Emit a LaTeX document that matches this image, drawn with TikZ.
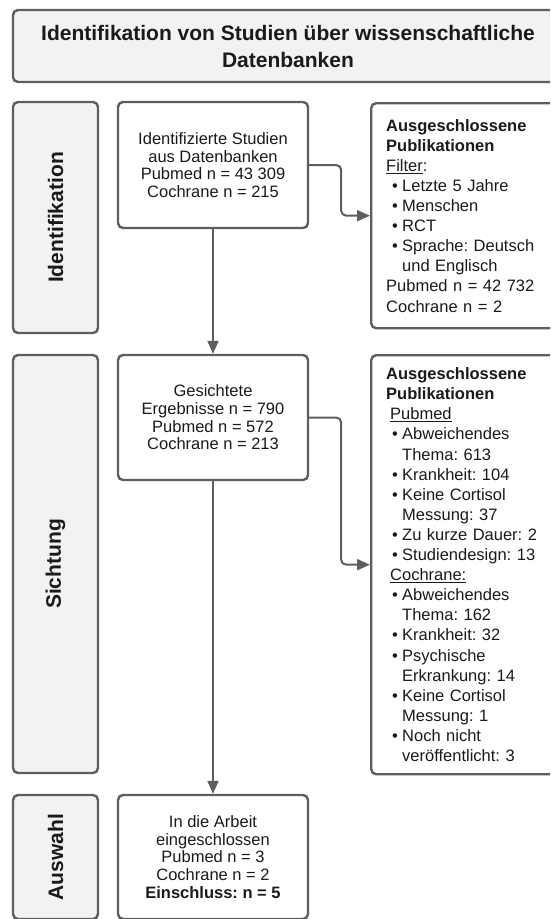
\documentclass[tikz,border=0pt]{standalone}
\usepackage{fontspec}
\setmainfont{Liberation Sans}
\usepackage{xcolor}
\definecolor{edgegray}{HTML}{5E5E5E}
\definecolor{phasefill}{HTML}{F2F2F4}
\definecolor{inktext}{HTML}{1A1A1A}
\usetikzlibrary{arrows.meta}
\frenchspacing
\newcommand{\bpoint}[1]{\hspace*{6pt}\makebox[10pt][l]{\textbullet}#1}
\newcommand{\bcont}{\hspace*{16pt}}
\tikzset{
    box/.style={draw=edgegray, line width=2.4pt, rounded corners=5pt, text=inktext, inner sep=0pt},
    phase/.style={box, fill=phasefill, rotate=90, font=\fontsize{21}{26}\selectfont\bfseries},
    stage/.style={box, fill=white, minimum width=190pt, align=center, font=\fontsize{16.5}{17.7}\selectfont},
    excl/.style={box, fill=white, anchor=north west, text width=170pt, inner xsep=15pt, align=left, font=\fontsize{16.5}{20.1}\selectfont},
    flow/.style={draw=edgegray, line width=2pt, rounded corners=5pt, -{Triangle[length=13pt,width=11pt]}}
}

\begin{document}
\begin{tikzpicture}[x=1pt, y=-1pt]
    \useasboundingbox (0,0) rectangle (550,919);
    \clip (0,0) rectangle (550,919);
    \node[box, fill=phasefill, align=center, minimum width=550pt, minimum height=72pt, font=\fontsize{21}{27}\selectfont\bfseries] (title) at (288,46)
        {Identifikation von Studien über wissenschaftliche\\Datenbanken};
    \node[phase, minimum width=231pt, minimum height=85pt] (pid)  at (55.5,217.5) {Identifikation};
    \node[phase, minimum width=418pt, minimum height=85pt] (psi)  at (55.5,564)   {Sichtung};
    \node[phase, minimum width=124pt, minimum height=85pt] (paus) at (55.5,857)   {Auswahl};
    \node[stage, minimum height=126pt] (found)    at (213,165)   {Identifizierte Studien\\aus Datenbanken\\Pubmed n = 43~309\\Cochrane n = 215};
    \node[stage, minimum height=125pt] (screened) at (213,417.5) {Gesichtete\\Ergebnisse n = 790\\Pubmed n = 572\\Cochrane n = 213};
    \node[stage, minimum height=124pt] (included) at (213,857)   {In die Arbeit\\eingeschlossen\\Pubmed n = 3\\Cochrane n = 2\\\textbf{Einschluss: n = 5}};
    \node[excl, minimum height=225pt] (filtered) at (370,102) {\textbf{Ausgeschlossene}\\
        \textbf{Publikationen}\\
        \underline{Filter}:\\
        \bpoint{Letzte 5 Jahre}\\
        \bpoint{Menschen}\\
        \bpoint{RCT}\\
        \bpoint{Sprache: Deutsch}\\
        \bcont und Englisch\\
        Pubmed n = 42~732\\
        Cochrane n = 2};
    \node[excl, minimum height=419pt] (rejected) at (370,354) {\textbf{Ausgeschlossene}\\
        \textbf{Publikationen}\\
        \hspace*{4pt}\underline{Pubmed}\\
        \bpoint{Abweichendes}\\
        \bcont Thema: 613\\
        \bpoint{Krankheit: 104}\\
        \bpoint{Keine Cortisol}\\
        \bcont Messung: 37\\
        \bpoint{Zu kurze Dauer: 2}\\
        \bpoint{Studiendesign: 13}\\
        \hspace*{4pt}\underline{Cochrane:}\\
        \bpoint{Abweichendes}\\
        \bcont Thema: 162\\
        \bpoint{Krankheit: 32}\\
        \bpoint{Psychische}\\
        \bcont Erkrankung: 14\\
        \bpoint{Keine Cortisol}\\
        \bcont Messung: 1\\
        \bpoint{Noch nicht}\\
        \bcont veröffentlicht: 3};
    \draw[flow] (found) -- (screened);
    \draw[flow] (screened) -- (included);
    \draw[flow] (found.east) -- ++(32,0) |- (filtered.west);
    \draw[flow] (screened.east) -- ++(32,0) |- (rejected.west);
\end{tikzpicture}
\end{document}
